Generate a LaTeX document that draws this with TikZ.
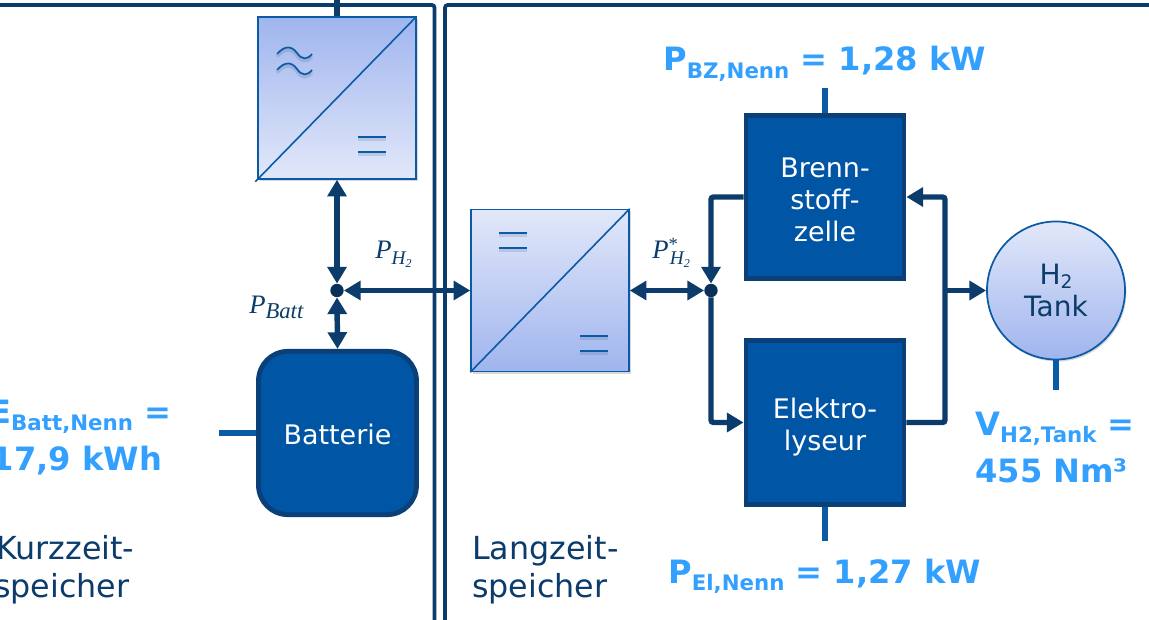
\documentclass[tikz,border=0pt]{standalone}
\usepackage{fontspec}
\setmainfont{DejaVu Sans}
\newfontfamily\mathlike{Liberation Serif}[ItalicFont=* Italic]
\usetikzlibrary{arrows.meta,shadows,shapes.geometric}
\definecolor{navy}{HTML}{0B3C6B}
\definecolor{blockfill}{HTML}{0055A4}
\definecolor{blockedge}{HTML}{0A3F78}
\definecolor{lineblue}{HTML}{0A5AA5}
\definecolor{gradA}{HTML}{A0B5EE}
\definecolor{gradB}{HTML}{E2E8FA}
\definecolor{skyb}{HTML}{33A0FF}
\newcommand{\vallabel}[2]{{\fontsize{24.1}{28}\selectfont\bfseries #1}\raisebox{-5.3pt}{\fontsize{16}{20}\selectfont\bfseries #2}}
\newcommand{\mathlabel}[2]{{\mathlike\itshape\fontsize{20}{22}\selectfont P}\raisebox{-4.5pt}{\mathlike\itshape\fontsize{#1}{16}\selectfont #2}}
\tikzset{
  x=0.75pt,y=-0.75pt,
  framerule/.style={draw=navy,line width=2.8pt,rounded corners=2pt},
  flow/.style={draw=navy,line width=4.1pt,rounded corners=2pt},
  twoway/.style={flow,{Triangle[length=12.5pt,width=14pt]}-{Triangle[length=12.5pt,width=14pt]}},
  oneway/.style={flow,-{Triangle[length=12.5pt,width=14pt]}},
  stub/.style={draw=lineblue,line width=3.8pt},
  conv/.style={rectangle,draw=lineblue,line width=1.1pt,minimum width=118.5pt,minimum height=121.5pt,inner sep=0pt,drop shadow={shadow xshift=1.2pt,shadow yshift=-1.5pt,opacity=.3}},
  convdark/.style={conv,top color=gradA,bottom color=gradB},
  convlight/.style={conv,top color=gradB,bottom color=gradA},
  diag/.style={draw=lineblue,line width=1.2pt},
  sym/.style={draw=lineblue,line width=1.3pt,preaction={draw=navy,opacity=.14,line width=2.4pt,transform canvas={yshift=-2pt}}},
  blockbox/.style={rectangle,draw=blockedge,fill=blockfill,line width=3.6pt,minimum width=118.5pt,minimum height=122.5pt,inner sep=0pt,text=white,align=center,font=\fontsize{20.2}{24}\selectfont},
  junction/.style={circle,fill=navy!80!black,draw=none,minimum size=10pt,inner sep=0pt},
  vallab/.style={anchor=base west,inner sep=0pt,text=skyb,align=left,font=\fontsize{24.1}{35.25}\selectfont},
  sidelab/.style={anchor=base west,inner sep=0pt,text=navy,align=left,font=\fontsize{23.8}{27.8}\selectfont},
  formula/.style={anchor=base west,inner sep=0pt,text=navy},
}
\begin{document}
\begin{tikzpicture}
\clip (0,0) rectangle (1149,620);
\fill[white] (0,0) rectangle (1149,620);

% panel frames
\coordinate (fa) at (0,5);
\coordinate (fb) at (434.5,5);
\coordinate (fc) at (434.5,620);
\coordinate (fd) at (445,620);
\coordinate (fe) at (445,5);
\coordinate (ff) at (1149,5);
\draw[framerule] (fa) -- (fb) -- (fc);
\draw[framerule] (fd) -- (fe) -- (ff);

% nodes
\node[convdark] (inva) at (337,98) {};
\node[convlight] (invb) at (550,290.5) {};
\node[blockbox] (bz) at (825,197) {\rule{0pt}{18.3pt}Brenn-\\stoff-\\zelle};
\node[blockbox] (el) at (825,422.5) {\rule{0pt}{22.8pt}Elektro-\\lyseur};
\node[blockbox,rounded corners=22pt] (batt) at (337.5,433) {\rule{0pt}{16.8pt}Batterie};
\node[circle,draw=lineblue,line width=1.3pt,top color=gradB,bottom color=gradA,minimum size=103.5pt,inner sep=0pt,text=navy,align=center,font=\fontsize{21}{24}\selectfont,drop shadow={shadow xshift=1pt,shadow yshift=-1.5pt,opacity=.3}] (tank) at (1056,290.5) {H\raisebox{-3pt}{\fontsize{14}{14}\selectfont 2}\\Tank};
\node[junction] (ja) at (337,290.5) {};
\node[junction] (jb) at (711,290.5) {};

% diagonals and symbols
\draw[diag] ([shift={(-2,2)}]inva.south west) -- (inva.north east);
\draw[diag] (invb.south west) -- (invb.north east);

\draw[sym] (277,54) .. controls (285,45) and (292,46) .. (297,53) .. controls (302,60) and (307,60) .. (312,54);
\draw[sym] (277,70) .. controls (285,61) and (292,62) .. (297,69) .. controls (302,76) and (307,76) .. (312,70);
\draw[sym] (358,137) -- (386,137);
\draw[sym] (358,152) -- (386,152);
\draw[sym] (499,233) -- (527,233);
\draw[sym] (499,248) -- (527,248);
\draw[sym] (580,336) -- (608,336);
\draw[sym] (580,351) -- (608,351);

% connectors
\coordinate (top) at (337,0);
\draw[flow,rounded corners=0pt] (top) -- (inva.north);
\draw[twoway] (inva.south) -- (ja.north);
\draw[twoway] (ja.south) -- (batt.north);
\draw[twoway] (ja.east) -- (invb.west);
\draw[twoway] (invb.east) -- (jb.west);
\draw[oneway] (bz.west) -| (jb.north);
\draw[oneway] (jb.south) |- (el.west);
\draw[oneway] (el.east) -| (945,197) -- (bz.east);
\coordinate (tee) at (945,290.5);
\draw[oneway,rounded corners=0pt] (tee) -- (tank.west);

% value stubs
\coordinate (sbz) at (825,88);
\coordinate (sel) at (825,541);
\coordinate (stk) at (1056,390);
\coordinate (sba) at (219,433);
\draw[stub] (sbz) -- (bz.north);
\draw[stub] (sel) -- (el.south);
\draw[stub] (stk) -- (tank.south);
\draw[stub] (sba) -- (batt.west);

% value labels
\node[vallab] (lbz) at (663,71) {\vallabel{P}{BZ,Nenn}\vallabel{ = 1,28 kW}{}};
\node[vallab] (lel) at (668,583) {\vallabel{P}{El,Nenn}\vallabel{ = 1,27 kW}{}};
\node[vallab] (lbatt) at (-11,470) {\vallabel{E}{Batt,Nenn}\vallabel{ =}{}\\\hspace*{2pt}\vallabel{17,9 kWh}{}};
\node[vallab] (ltk) at (975,482) {\vallabel{V}{H2,Tank}\vallabel{ =}{}\\\vallabel{455 Nm³}{}};

% side labels
\node[sidelab] (lkurz) at (-6,597) {\hspace*{1.5pt}Kurzzeit-\\speicher};
\node[sidelab] (llang) at (472,597) {Langzeit-\\speicher};

% quantity labels
\node[formula] (pa) at (375,259) {\mathlabel{14.5}{H\raisebox{-2pt}{\fontsize{9}{9}\selectfont 2}}};
\node[formula] (pb) at (249,313) {\mathlabel{17}{Batt}};
\node[formula] (pc) at (652,259) {{\mathlike\itshape\fontsize{20}{22}\selectfont P}\raisebox{6pt}{\mathlike\fontsize{14}{14}\selectfont *}\hspace*{-6pt}\raisebox{-4.5pt}{\mathlike\itshape\fontsize{14.5}{16}\selectfont H\raisebox{-2pt}{\fontsize{9}{9}\selectfont 2}}};
\end{tikzpicture}
\end{document}
